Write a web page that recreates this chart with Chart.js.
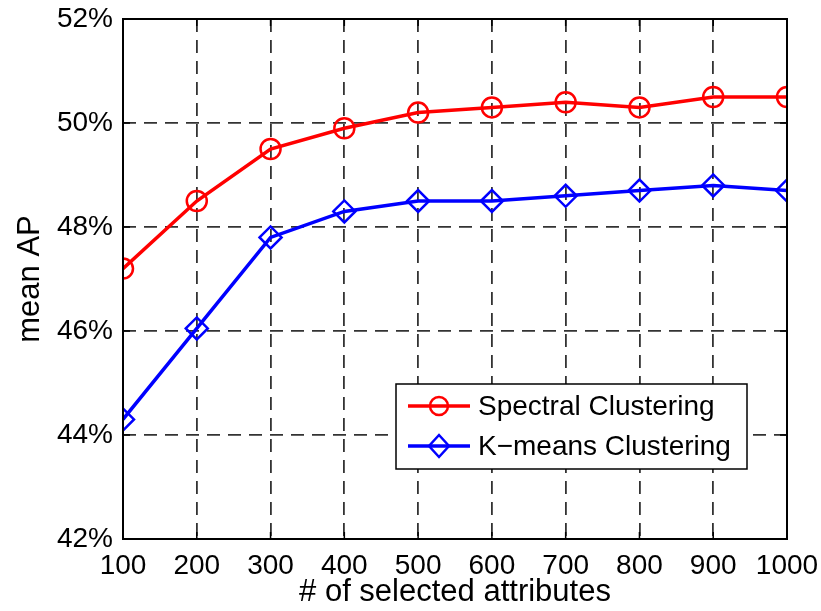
<!DOCTYPE html>
<html><head><meta charset="utf-8">
<script src="https://cdn.jsdelivr.net/npm/chart.js@4/dist/chart.umd.min.js"></script>
<style>html,body{margin:0;padding:0;background:#fff}canvas{display:block}</style>
</head><body>
<canvas id="c" width="821" height="611"></canvas>
<script>
const categories = [100, 200, 300, 400, 500, 600, 700, 800, 900, 1000];
const spectral = [47.2, 48.5, 49.5, 49.9, 50.2, 50.3, 50.4, 50.3, 50.5, 50.5];
const kmeans = [44.3, 46.05, 47.8, 48.3, 48.5, 48.5, 48.6, 48.7, 48.8, 48.7];
const yTicks = [42, 44, 46, 48, 50, 52];
const seriesNames = ["Spectral Clustering", "K\u2212means Clustering"];
const FONT = "'Liberation Sans', Arial, sans-serif";

const frame = {
  id: 'frame',
  afterDatasetsDraw(chart) {
    const {ctx, chartArea: a, scales} = chart;
    ctx.save();
    ctx.strokeStyle = '#000'; ctx.lineWidth = 2; ctx.setLineDash([]);
    ctx.strokeRect(a.left, a.top, a.right - a.left, a.bottom - a.top);
    const L = 7;
    ctx.lineWidth = 1.5;
    categories.forEach(v => {
      const x = scales.x.getPixelForValue(v);
      ctx.beginPath(); ctx.moveTo(x, a.bottom); ctx.lineTo(x, a.bottom - L);
      ctx.moveTo(x, a.top); ctx.lineTo(x, a.top + L); ctx.stroke();
    });
    yTicks.forEach(v => {
      const y = scales.y.getPixelForValue(v);
      ctx.beginPath(); ctx.moveTo(a.left, y); ctx.lineTo(a.left + L, y);
      ctx.moveTo(a.right, y); ctx.lineTo(a.right - L, y); ctx.stroke();
    });
    // legend box
    const bx = 396, by = 384, bw = 351, bh = 85;
    ctx.fillStyle = '#fff'; ctx.fillRect(bx, by, bw, bh);
    ctx.strokeStyle = '#000'; ctx.lineWidth = 1.5; ctx.strokeRect(bx, by, bw, bh);
    const rows = [{y: 406, c: '#ff0000', s: 'circle'}, {y: 446, c: '#0000ff', s: 'rectRot'}];
    rows.forEach((r, i) => {
      ctx.strokeStyle = r.c; ctx.lineWidth = 3.5;
      ctx.beginPath(); ctx.moveTo(408, r.y); ctx.lineTo(470, r.y); ctx.stroke();
      ctx.lineWidth = 2.5;
      ctx.beginPath();
      if (r.s === 'circle') { ctx.arc(439, r.y, 9, 0, Math.PI * 2); }
      else { ctx.moveTo(439, r.y - 11); ctx.lineTo(449, r.y); ctx.lineTo(439, r.y + 11); ctx.lineTo(429, r.y); ctx.closePath(); }
      ctx.stroke();
      ctx.fillStyle = '#000'; ctx.font = '28px ' + FONT; ctx.textBaseline = 'middle'; ctx.textAlign = 'left';
      ctx.fillText(seriesNames[i], 478, r.y + 1);
    });
    ctx.restore();
  }
};

new Chart(document.getElementById('c'), {
  type: 'line',
  data: {
    datasets: [
      {label: seriesNames[0], data: categories.map((x, i) => ({x, y: spectral[i]})),
       borderColor: '#ff0000', backgroundColor: 'rgba(0,0,0,0)', borderWidth: 3.5,
       pointStyle: 'circle', pointRadius: 10, pointBorderWidth: 2.5, pointBorderColor: '#ff0000', pointBackgroundColor: 'rgba(0,0,0,0)'},
      {label: seriesNames[1], data: categories.map((x, i) => ({x, y: kmeans[i]})),
       borderColor: '#0000ff', backgroundColor: 'rgba(0,0,0,0)', borderWidth: 3.5,
       pointStyle: 'rectRot', pointRadius: 11, pointBorderWidth: 2.5, pointBorderColor: '#0000ff', pointBackgroundColor: 'rgba(0,0,0,0)'}
    ]
  },
  options: {
    responsive: false, animation: false,
    layout: {padding: {top: 19, right: 34, left: 0, bottom: 0}},
    plugins: {legend: {display: false}, tooltip: {enabled: false}},
    elements: {line: {tension: 0}},
    scales: {
      x: {type: 'linear', min: 100, max: 1000,
        afterBuildTicks: s => { s.ticks = categories.map(v => ({value: v})); },
        afterFit: s => { s.height = 72; s.paddingLeft = 0; s.paddingRight = 0; },
        border: {display: false, dash: [13, 8]},
        grid: {color: '#333', lineWidth: 1.8, drawTicks: false},
        ticks: {color: '#000', font: {family: FONT, size: 28}, padding: 10, maxRotation: 0, autoSkip: false, callback: v => String(v)},
        title: {display: true, text: '# of selected attributes', color: '#000', font: {family: FONT, size: 31}, padding: {top: 0, bottom: 0}}
      },
      y: {min: 42, max: 52,
        afterBuildTicks: s => { s.ticks = yTicks.map(v => ({value: v})); },
        afterFit: s => { s.width = 123; s.paddingTop = 0; s.paddingBottom = 0; },
        border: {display: false, dash: [13, 8]},
        grid: {color: '#333', lineWidth: 1.8, drawTicks: false},
        ticks: {color: '#000', font: {family: FONT, size: 28}, padding: 10, callback: v => v + '%'},
        title: {display: true, text: 'mean AP', color: '#000', font: {family: FONT, size: 31}, padding: {top: 12, bottom: 0}}
      }
    }
  },
  plugins: [frame]
});
</script>
</body></html>
